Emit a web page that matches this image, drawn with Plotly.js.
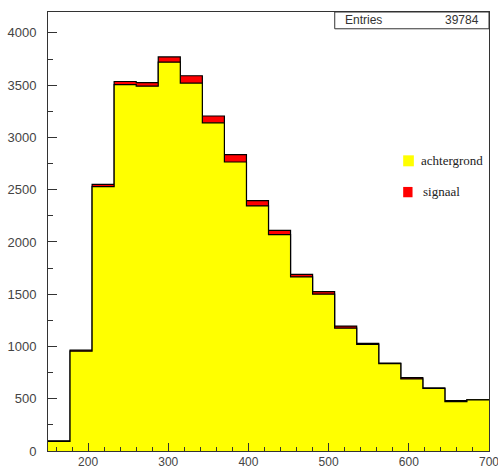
<!DOCTYPE html>
<html>
<head>
<meta charset="utf-8">
<script src="https://cdn.plot.ly/plotly-3.0.1.min.js"></script>
<style>html,body{margin:0;padding:0;background:#fff;}#chart{width:498px;height:468px;}</style>
</head>
<body>
<div id="chart"></div>
<script>
// Histogram binning: 20 bins from 150 to 700
var binLow = 150;
var binHigh = 700;
var nBins = 20;
// Background (achtergrond) counts per bin
var achtergrond = [93, 955, 2530, 3505, 3490, 3720, 3520, 3140, 2765, 2345, 2070, 1665, 1500, 1175, 1020, 835, 690, 598, 472, 490];
// Signal (signaal) counts per bin, stacked on top of background
var signaal = [3, 10, 20, 30, 35, 50, 70, 65, 70, 50, 40, 25, 25, 20, 10, 7, 12, 5, 10, 2];
var entries = 39784;
var yTicks = [0, 500, 1000, 1500, 2000, 2500, 3000, 3500, 4000];
var xTicks = [200, 300, 400, 500, 600, 700];

var bw = (binHigh - binLow) / nBins;
var edges = [];
for (var i = 0; i <= nBins; i++) edges.push(binLow + i * bw);
var total = achtergrond.map(function (v, i) { return v + signaal[i]; });
function stepY(arr) { return arr.concat([arr[arr.length - 1]]); }

var traces = [
  {
    x: edges, y: stepY(total), type: 'scatter', mode: 'lines',
    line: {shape: 'hv', color: '#000', width: 1.2},
    fill: 'tozeroy', fillcolor: '#ff0000', hoverinfo: 'skip', showlegend: false
  },
  {
    x: edges, y: stepY(achtergrond), type: 'scatter', mode: 'lines',
    line: {shape: 'hv', color: '#000', width: 1.2},
    fill: 'tozeroy', fillcolor: '#ffff00', hoverinfo: 'skip', showlegend: false
  }
];

var tickFont = {family: 'Liberation Sans, Arial, sans-serif', size: 12, color: '#444'};
var layout = {
  width: 498, height: 468,
  margin: {l: 48, r: 9, t: 12, b: 17, pad: 0},
  paper_bgcolor: '#fff', plot_bgcolor: '#fff',
  showlegend: false,
  xaxis: {
    range: [binLow, binHigh + 0.01], tickvals: xTicks, ticktext: xTicks.map(String),
    ticks: 'inside', ticklen: 8, tickcolor: '#333', tickwidth: 1,
    minor: {dtick: 20, tick0: 0, ticks: 'inside', ticklen: 4, tickcolor: '#333', showgrid: false},
    showgrid: false, zeroline: false, showline: true, linecolor: '#333', linewidth: 1, mirror: true,
    tickfont: tickFont, ticklabelstandoff: 0, ticklabeloverflow: 'allow'
  },
  yaxis: {
    range: [0, 4200], tickvals: yTicks, ticktext: yTicks.map(String),
    ticks: 'inside', ticklen: 9, tickcolor: '#333', tickwidth: 1,
    minor: {dtick: 250, tick0: 0, ticks: 'inside', ticklen: 5, tickcolor: '#333', showgrid: false},
    showgrid: false, zeroline: false, showline: true, linecolor: '#333', linewidth: 1, mirror: true,
    tickfont: {family: 'Liberation Sans, Arial, sans-serif', size: 13, color: '#444'}, ticklabelstandoff: 8
  },
  shapes: [
    {type: 'rect', xref: 'paper', yref: 'paper', x0: 0.6502, x1: 1, y0: 0.9618, y1: 1,
     line: {color: '#333', width: 1}, fillcolor: '#fff'},
    {type: 'rect', xref: 'paper', yref: 'paper', x0: 0.8054, x1: 0.8296, y0: 0.6485, y1: 0.6735,
     line: {width: 0}, fillcolor: '#ffff00'},
    {type: 'rect', xref: 'paper', yref: 'paper', x0: 0.8054, x1: 0.8266, y0: 0.578, y1: 0.6015,
     line: {width: 0}, fillcolor: '#ff0000'}
  ],
  annotations: [
    {xref: 'paper', yref: 'paper', x: 0.668, y: 0.981, xanchor: 'left', yanchor: 'middle', showarrow: false,
     text: 'Entries', font: {family: 'Liberation Sans, Arial, sans-serif', size: 12, color: '#333'}},
    {xref: 'paper', yref: 'paper', x: 0.9818, y: 0.981, xanchor: 'right', yanchor: 'middle', showarrow: false,
     text: String(entries), font: {family: 'Liberation Sans, Arial, sans-serif', size: 12, color: '#333'}},
    {xref: 'paper', yref: 'paper', x: 0.8405, y: 0.661, xanchor: 'left', yanchor: 'middle', showarrow: false,
     text: 'achtergrond', font: {family: 'Liberation Serif, Times New Roman, serif', size: 13, color: '#222'}},
    {xref: 'paper', yref: 'paper', x: 0.846, y: 0.592, xanchor: 'left', yanchor: 'middle', showarrow: false,
     text: 'signaal', font: {family: 'Liberation Serif, Times New Roman, serif', size: 13, color: '#222'}}
  ]
};

Plotly.newPlot('chart', traces, layout, {staticPlot: true, displayModeBar: false});
</script>
</body>
</html>
